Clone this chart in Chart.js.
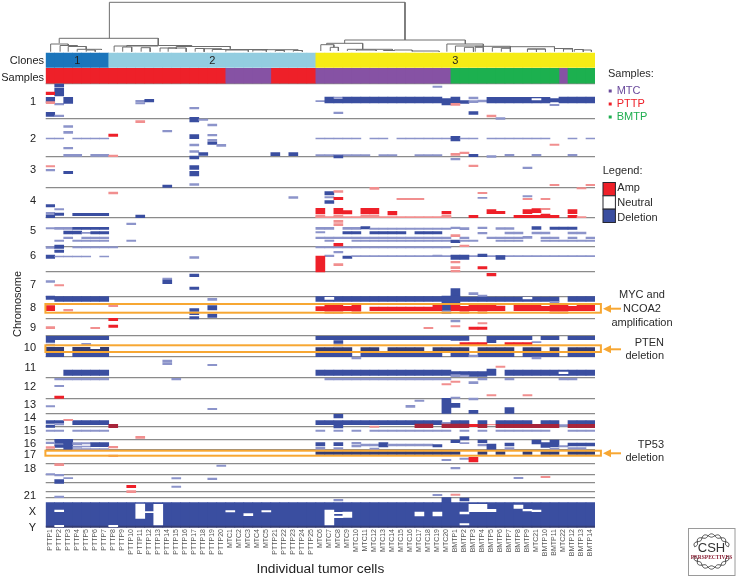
<!DOCTYPE html>
<html>
<head>
<meta charset="utf-8">
<title>Clonal copy number heatmap</title>
<script src="https://cdn.jsdelivr.net/npm/chart.js@4"></script>
<style>
  html, body { margin: 0; padding: 0; background: #fff; }
  canvas { display: block; }
</style>
</head>
<body>
<canvas id="chart" width="736" height="577"></canvas>
<script>
// Tumor cells, one per column
const sampleNames = [
  'PTTP1','PTTP2','PTTP3','PTTP4','PTTP5','PTTP6','PTTP7','PTTP8','PTTP9','PTTP10',
  'PTTP11','PTTP12','PTTP13','PTTP14','PTTP15','PTTP16','PTTP17','PTTP18','PTTP19','PTTP20',
  'MTC1','MTC2','MTC3','MTC4','MTC5','PTTP21','PTTP22','PTTP23','PTTP24','PTTP25',
  'MTC6','MTC7','MTC8','MTC9','MTC10','MTC11','MTC12','MTC13','MTC14','MTC15',
  'MTC16','MTC17','MTC18','MTC19','MTC20','BMTP1','BMTP2','BMTP3','BMTP4','BMTP5',
  'BMTP6','BMTP7','BMTP8','BMTP9','MTC21','BMTP10','BMTP11','MTC22','BMTP12','BMTP13','BMTP14'
];
// first column, last column
const cloneBands = [[0, 6], [7, 29], [30, 60]];
const cloneLabels = ['1', '2', '3'];
const cloneLabelCols = [3.5, 18.5, 45.5];
const sampleBandsPTTP = [[0, 19], [25, 29]];
const sampleBandsMTC = [[20, 24], [30, 44], [57, 57]];
const sampleBandsBMTP = [[45, 56], [58, 60]];

// Genome track runs down the picture; the chromosome ticks and boundaries sit on it
const chromLabels = ['1','2','3','4','5','6','7','8','9','10','11','12','13','14','15','16','17','18','21','X','Y'];
const chromCenters = [102,139,170,201,231,256,285,308,328,348,368,387,405,418,431,443.5,455,469,495.5,512,528];
const chromBoundaries = [84,119,156.3,187.7,217.7,246.3,272,296.7,318.3,336,357,377.3,398.3,413.3,427,439.3,450,463.3,474.7,482.7,492,497.7];

// Calls: first column, last column, track start, track end
const deletions = [
  // chr 1
  [1,1,84,87],[1,1,88,96],[0,0,97.3,102.7],[1,1,103.3,105],[2,2,97.3,103.3],[0,0,112.3,116.3],[1,1,115,116.7],
  [10,10,100.3,102],[10,10,102.7,104],[11,11,99.3,102],[16,16,107.3,109],[16,16,117.3,122],[17,17,119,120.3],
  [30,30,100.7,101.7],[31,31,97,103],[32,32,97,98.5],[32,32,99.3,103],[33,43,97,103],[44,44,98.7,105],[45,45,97,102.7],
  [46,46,100.7,103.3],[47,47,97,99],[47,47,100.7,102.7],[48,48,100,102],[49,55,97.3,103],[56,56,98.7,102],[57,60,97,103],
  [43,43,86,87.3],[32,32,112,113.7],[47,47,111.7,114.3],[56,56,104.3,105.7],[50,50,117.7,119.3],
  // chr 2
  [18,18,124,126],[2,2,125.7,127.3],[2,2,131.3,133.3],[2,2,147.3,149],[13,13,130.3,132],[0,1,138,139],[3,6,138,139],
  [16,16,134.7,138.7],[16,16,144,146],[16,16,150.7,152.3],[18,18,134.3,136],[18,18,139.3,141.3],[18,18,142,144.3],
  [19,19,144.3,146.3],[17,17,152.7,155.3],[2,3,154.3,156.3],[5,6,154.3,156.3],[25,25,152.7,155.7],[27,27,152.7,155.7],
  [30,34,138,139],[36,37,138,139],[39,44,138,139],[45,45,136.3,141],[46,47,138,139],[49,55,138,139],[58,58,138,139],[60,60,138,139],
  [31,35,154.5,156],[37,38,154.5,156],[41,43,154.5,156],[32,32,155.7,158],[45,45,158.3,160],[47,47,154.3,156.7],
  [49,49,155.7,157.3],[51,51,154.3,156],[54,54,154.3,156],[58,58,154.3,156],[30,30,154.5,156],
  // chr 3
  [16,16,156,159],[16,16,165.7,169.3],[16,16,171.3,176],[16,16,183.7,185.3],[0,0,169.3,171],[2,2,171.3,173.7],
  [13,13,185,187.3],[53,53,167,168.7],
  // chr 4
  [27,27,196.5,198.5],[31,31,191.7,195],[31,31,196.7,198],[31,31,200.7,203.3],[0,0,204.7,207],[1,1,208.7,210],
  [0,0,212.3,214.3],[0,0,215,217.7],[1,1,213,215.3],[3,6,213.3,215.7],[10,10,215,217.7],[48,48,197.3,198.3],[53,53,195.7,197],
  // chr 5
  [0,0,227.7,229],[1,2,227.3,229.3],[3,6,227.3,229.5],[2,3,231,234],[4,4,232.3,233.3],[5,6,231.7,234],[2,2,237,238.7],[4,6,237,238.7],
  [1,1,240,241.3],[3,6,240,241.3],[9,9,223,224.7],[9,9,240,241.3],[30,31,227.3,229.3],[33,34,227.3,229.3],[35,35,226.5,229],[36,44,228,229.3],
  [30,30,231.7,233],[33,34,231.7,234],[36,39,231.7,234],[41,43,231.7,234],[30,44,237,238.7],[31,31,240,241.3],[34,44,240,241.3],
  [45,45,227,228.7],[46,46,227.7,229.7],[48,48,227,228.7],[48,48,232.3,234],[45,45,240,242.7],[46,46,237,238.7],[46,47,240,241.3],
  [50,51,227.7,229.3],[51,52,232,234],[54,54,226.7,229.3],[54,55,232,234],[56,58,227,229.3],[58,59,232,234],
  [49,52,237,238.7],[53,53,236.3,238.3],[55,56,237,238.7],[58,58,237,238.7],[60,60,237,238.7],[50,52,240,241.3],[55,60,240,241.3],
  // chr 6
  [0,0,246.7,248.3],[1,1,245,248.3],[1,1,250,252.3],[3,7,246.7,248],[30,44,246.7,248],[0,0,255,258.3],[1,4,256,257],[6,6,256,257],
  [16,16,256.7,258.3],[31,31,255,256.7],[32,32,251.3,253],[33,33,256,258.3],[34,60,255.7,256.7],[43,43,255,256.7],
  [45,46,255,259.3],[48,48,254,256.7],[50,50,255.7,259.3],
  // chr 7
  [16,16,274,276.7],[16,16,287,289.3],[13,13,278,279.7],[13,13,280,283.7],[0,0,280.7,282.3],[45,45,288.7,296.7],
  [47,47,292.7,294.7],[48,48,295,296.7],
  // chr 8
  [0,0,296,299.3],[1,6,296.7,301.3],[18,18,298.3,300.3],[16,16,308.7,311.3],[16,16,312.3,314.7],[16,16,316.7,319],[18,18,305.7,310],[18,18,314,317.3],
  [30,43,296.5,301.3],[44,45,296,304.7],[46,56,297,301.3],[56,56,301.3,303],[58,60,296.5,301.3],[44,44,305.3,310.3],[44,44,311.7,313.7],
  // chr 9
  [45,45,320,322],
  // chr 10
  [0,0,336.3,342.3],[1,6,336.3,339.7],[4,4,343.3,345.3],[0,0,344,346],[0,1,352.7,356.7],[3,6,352.7,356.7],
  [30,44,336.3,339.7],[45,46,336.3,340.3],[49,53,336.3,339.7],[55,56,336.3,339.7],[58,60,336.3,339.7],[32,32,340.7,343.3],[32,32,344.3,346],
  [49,49,340.3,342.7],[54,54,341.7,342.7],[30,33,352.7,356.7],[35,43,352.7,356.7],[45,46,352.7,356.7],[48,51,352.7,356.7],
  [53,56,352.7,356.7],[58,60,352.7,356.7],[47,47,355,356.7],[34,34,357,359],[54,54,357,359],
  // chr 11
  [13,13,360,362],[13,13,362.7,364.7],[18,18,364.3,365.7],[2,6,370,375.3],[30,44,370,375.3],[45,46,371.7,375.7],[47,48,371.7,376.5],
  [49,49,369,375.3],[51,60,370,375.3],[1,6,378.3,380],[14,14,378.3,380],[31,44,378.3,380],[48,48,378.3,380],[51,51,378.3,380],[57,58,378.3,380],
  [45,45,374.7,376.7],[46,46,375,376.5],
  // chr 12
  [1,1,385.3,386.7],[47,47,381.7,383.7],
  // chr 13
  [0,0,405.7,407],[18,18,408.3,409.7],[44,44,398.3,413.3],[45,45,397,398.3],[45,45,403.3,407.3],[47,47,398,400],[47,47,410.3,413.3],
  [41,41,400,401.3],[40,40,405.3,407.3],[51,51,407.7,413.3],
  // chr 14
  [32,32,414.3,418],[0,1,420.7,423.3],[3,6,420.7,424.7],[30,43,420.7,424.7],[32,32,424.7,428],[44,44,422.3,424],[45,46,420.7,424],
  [48,48,420.7,424],[50,53,420.7,424],[55,56,420.7,424],[58,60,420.7,424],[0,0,425,427.3],[1,1,423.3,425],[57,57,424.7,426.3],
  // chr 15
  [0,1,430,431.3],[3,6,430,431.3],[30,30,430,431.3],[32,32,430,431.3],[34,34,430,431.3],[36,44,430,431.3],[46,46,430,431.3],[48,48,430,431.3],
  [50,55,430,431.3],[58,60,430,431.3],
  // chr 16
  [1,2,439.3,443.3],[2,2,443.3,450],[0,0,442,443.7],[1,1,444.7,447.3],[3,3,442.7,444.7],[3,3,446,447.3],[4,4,442.7,444],[4,4,446,447],[5,6,442.7,446.7],
  [3,6,448.7,450],[30,30,442.7,446],[30,30,447.3,449.3],[32,32,442.7,445.7],[32,32,447.7,449.3],[34,34,442.3,444],[34,34,445,447],[35,36,444,446],
  [37,37,442.7,447],[38,42,444,446],[43,43,444.7,447],[36,36,448,449.7],[45,45,440,442.7],[46,46,436.7,440],[46,46,442.7,443.7],
  [48,48,440,442.7],[48,48,444,446],[49,49,444,450],[51,51,443,446],[51,51,447.7,449.3],[54,54,440,444],[55,55,442.7,447.3],[56,56,440,447],
  [56,56,448.3,449.3],[57,57,445.7,447],[58,60,443,446],[58,59,447.7,449.3],
  // chr 17
  [44,44,459.3,460.7],[46,46,458,459.3],
  // chr 18 and below
  [19,19,465,466.3],[45,45,467.3,469],[0,0,473.7,475],[1,1,474.3,476],[52,52,477.3,478.7],[1,1,479.7,483.3],[2,2,477.7,478.7],[14,14,477.7,479],
  [18,18,478,479.7],[14,14,486,487.3],[43,43,494.3,495.7],[1,1,496,497.7],[32,32,499.3,501],[44,44,497.7,502.7],[46,46,498,501],
  // X and Y
  [0,60,502.7,526.5]
];
// The darker runs: PTEN and TP53 rows, and the Y edge
const deepDeletions = [
  [0,1,347.3,351.7],[3,6,347.3,351.7],[30,33,347.7,351.3],[35,36,347.7,351.3],[38,41,347.7,351.3],[43,46,347.7,351.3],[48,51,347.7,351.3],
  [53,54,347.7,351.3],[56,56,347.7,351.3],[58,60,347.7,351.3],
  [30,45,451.7,454.3],[48,48,451.7,454.3],[50,50,451.7,454.3],[53,53,451.7,454.3],[55,56,451.7,454.3],[58,60,451.7,454.3],
  [0,60,526,527.5]
];
const amplifications = [
  [0,0,92,94.7],[0,0,101.7,103.7],[45,45,103.3,105.3],[49,49,115,117],
  [10,10,120.7,122.7],[7,7,134,136.3],[7,7,155,156.7],[45,45,153.3,155.3],[46,46,152,153.7],[56,56,144,145.3],
  [0,0,165.7,167],[47,47,165,166.7],[36,36,187.3,189.3],[56,56,184.3,185.7],[60,60,184.3,185.7],[59,59,187.7,189],
  // chr 4
  [7,7,192,194],[32,32,190.7,192.3],[32,32,197.3,199.7],[30,30,208.3,214],[30,44,216.5,217.7],[30,30,215.3,217.3],[32,32,208.3,210.7],[32,32,211.3,214],
  [32,32,215.3,217.3],[33,33,210.7,214],[35,36,208.3,214],[35,36,215.3,217.3],[38,38,211.3,215],[44,44,211.3,214],[44,44,215.3,217.3],
  [39,41,198.3,199.7],[48,48,192.3,193.7],[47,47,215.3,217.7],[49,49,209.7,213.7],[50,50,211.3,213.7],[52,52,215.3,217.7],[53,53,209.7,213.7],
  [53,53,215.3,217.7],[54,54,208.7,212.7],[54,54,215.3,217.7],[55,55,208.3,209.7],[55,55,214,217.7],[56,56,215.3,217.7],[58,58,209.7,213.7],
  [58,58,215.3,217.7],[59,59,216.7,217.7],[53,53,198.3,199.7],[55,55,198.3,199.7],
  // chr 5, 6
  [32,32,220.3,222.3],[32,32,223.7,225.7],[45,45,234.7,236.7],[46,46,245,246.7],[32,32,243.3,246],[30,30,256,272],[32,32,263.7,265.7],
  [45,45,261.3,263],[45,45,266.7,268.7],[45,45,270.3,272],[48,48,266.7,269],[49,49,273.3,276],[1,1,284.7,286],
  // chr 8
  [0,0,305.7,310.7],[2,2,309.3,311],[7,7,305,306.7],[30,30,306.7,310.7],[31,32,305,310.7],[33,33,306.3,310.7],[34,34,305,310.7],[36,42,307,310.7],
  [43,43,305,310.7],[45,45,304.7,310.7],[46,46,306.3,310.7],[47,49,305,310.7],[50,50,306,310.7],[52,54,305,310.7],[55,55,306.3,310.7],[56,57,305,310.7],
  [58,58,306.3,310.7],[59,60,305,310.7],[31,32,311.3,313.3],[34,34,311.3,313.3],[46,46,311.3,313.3],[48,48,311.3,313.3],[56,57,311.3,313.3],
  // chr 9, 10
  [7,7,318.3,320.7],[7,7,325,327.3],[0,0,326.7,328.7],[5,5,327.3,328.7],[45,45,325.7,327],[48,48,322.7,324],[47,48,327,329.3],[42,42,327.3,328.7],
  [46,48,342.7,345.3],[51,53,342.7,345.3],
  // chr 11 to 15
  [50,50,366,367.3],[1,1,396,398.3],[44,44,383.7,385],[45,45,381,382.3],[49,49,394.7,396],[53,53,394.7,396],[2,2,419.3,420.7],
  [36,36,426,427.3],[47,47,424.3,426.7],[49,49,424.3,425],[10,10,436.3,438.3],
  // chr 16 and below
  [0,0,446.7,448.3],[7,7,446.3,448],[7,7,455,456.7],[47,47,457.3,462],[1,1,463.7,465.7],[55,55,476.3,477.7],[9,9,485.3,487.7],[9,9,490.7,492.7],[45,45,494,495.3]
];
// Where amplification and deletion overlap in chr 14
const mixedCalls = [
  [7,7,424.3,427.7],[41,42,424,427.7],[44,46,424,427.7],[48,48,424.3,427.7],[50,56,424.3,427.7],[58,60,424.3,427.7]
];
// Neutral stretches inside broad deletions
const neutrals = [
  [54,54,98.7,100],[31,31,297.3,299.3],[53,53,297.3,299],[5,5,347.3,348.7],
  [1,1,510,511.7],[1,1,525.3,526.7],[7,7,525.3,526.7],[10,10,504,518.3],[11,11,511.7,512.7],[12,12,504.3,525],[20,20,510.7,512],
  [22,22,513.7,515.7],[24,24,510.7,512],[31,31,510,525],[32,32,512.3,513.7],[32,32,516,517.7],[33,33,512,517.3],[41,41,512,516],[43,43,512,516],
  [46,46,512,514],[46,46,523.7,525],[47,48,504.3,511.7],[49,49,509.3,511.7],[52,52,505,508.3],[53,53,509.3,511],[54,54,510,511.7],[57,57,372,373.7]
];
// Dendrogram merges: left x, right x, join height, left foot, right foot (x in columns)
const dendrogram = [
  [7.07,39.9,2.3,38.3,40],[1.5,12.5,38.3,43.3,46],
  [0.55,2.5,44,51.7,45.5],[1.6,3.5,45.5,51.7,46.5],[2.5,4.5,46.5,51.7,49.3],[3.5,6.2,49.3,51.7,50],[4.5,5.5,50,51.7,51.7],
  [7.6,12.5,46,51.7,45.5],[8.55,9.55,47,51.7,51.7],[10.6,11.6,47.7,51.7,51.7],[9,16.2,45.5,47,46.5],[12.7,14.5,48,51.7,49],
  [13.6,15.6,48,51.7,51.7],[14.5,20.5,46.5,48,48.7],[16.6,17.6,48.5,51.7,51.7],[17.6,19.5,48.7,51.7,49.5],[18.5,24.6,49.5,51.7,50],
  [20,22.5,50,51.7,51.7],[23,24.5,50,51.7,51.7],[24,28,49.7,50,51],[25.5,26.5,50.5,51.7,51.7],[27.5,28.5,50.5,51.7,51.7],
  [33.2,46.6,40,43.3,44],[31.2,35.2,43.3,44.7,49.3],[30.55,32,44.7,51,47.3],[31.6,32.5,47.3,51,51],[33.5,38.5,49.3,51,50],
  [34.5,36.7,50,51,51],[37.5,38.7,50.5,51,51],[38.7,40.7,50,51,51],[40.7,43.7,51,51.7,51.7],
  [44.55,48.6,44,51.7,46],[45.5,48.6,46,51.7,47],[46.5,47.5,47.3,51.7,51.7],[47.7,48.6,47.3,51.7,51.7],[47.7,51.6,46.3,47.3,47.3],
  [49.6,51.6,47.3,51.7,48.3],[50.6,51.6,48.3,51.7,51.7],[51.6,56.5,46.7,48.3,49],[53.5,55.5,49,51.7,49],[53.5,54.5,49,51.7,51.7],[54.5,55.5,49,51.7,51.7],
  [56.5,58.5,48.5,51.7,49],[57.5,58.5,49,51.7,51.7],[58.7,59.7,49.5,51.7,51.7],[59.7,60.6,50,51.7,51.7]
];
// Rows picked out in orange, with their call-outs
const highlightRows = [[304,312.7],[345.3,352],[450.7,455.7]];
const calloutRows = [308.7,349.3,453.3];

const DEL = '#3a4ea0', DEL_FAINT = '#8c94ca', DEL_DEEP = '#343c72';
const AMP = '#ee2029', AMP_FAINT = '#f18f8f';
const MIXED = '#a8243a';
const ORANGE = '#f7a733';
const FONT = '"Liberation Sans", Arial, sans-serif';

// Expand column runs into one floating bar per cell
function cells(runs) {
  const out = [];
  runs.forEach(r => {
    for (let c = r[0]; c <= r[1]; c++) out.push({ x: sampleNames[c], y: [r[2], r[3]] });
  });
  return out;
}
function bandCells(bands, top, bottom) {
  return cells(bands.map(b => [b[0], b[1], top, bottom]));
}
function dendrogramPoints() {
  const pts = [];
  dendrogram.forEach(m => {
    pts.push({ x: m[0], y: m[3] }, { x: m[0], y: m[2] }, { x: m[1], y: m[2] }, { x: m[1], y: m[4] }, { x: NaN, y: NaN });
  });
  return pts;
}
function cellDataset(data, solid, faint) {
  return {
    type: 'bar', data: data, grouped: false, barPercentage: 1, categoryPercentage: 1, borderWidth: 0,
    backgroundColor: ctx => {
      if (!faint || !ctx.raw) return solid;
      return Math.abs(ctx.raw.y[1] - ctx.raw.y[0]) <= 2.01 ? faint : solid;
    }
  };
}

// Labels, legend boxes, highlight rows and the journal mark
const annotations = {
  id: 'annotations',
  afterDatasetsDraw(chart) {
    const c = chart.ctx, y = chart.scales.y, x2 = chart.scales.x2;
    const text = (s, px, py, color, align, font) => {
      c.fillStyle = color || '#2b2b2b';
      c.textAlign = align || 'left';
      c.textBaseline = 'middle';
      c.font = font || '11px ' + FONT;
      c.fillText(s, px, py);
    };
    c.save();

    // highlighted rows
    c.strokeStyle = ORANGE;
    c.lineWidth = 2;
    highlightRows.forEach(r => {
      c.strokeRect(x2.getPixelForValue(0) - 0.3, y.getPixelForValue(r[0]), 555.5, y.getPixelForValue(r[1]) - y.getPixelForValue(r[0]));
    });

    // call-out arrows
    calloutRows.forEach(r => {
      const py = y.getPixelForValue(r);
      c.strokeStyle = ORANGE;
      c.fillStyle = ORANGE;
      c.lineWidth = 2;
      c.beginPath(); c.moveTo(608, py); c.lineTo(621, py); c.stroke();
      c.beginPath(); c.moveTo(603, py); c.lineTo(611, py - 4); c.lineTo(611, py + 4); c.closePath(); c.fill();
    });

    // clone numbers
    cloneLabels.forEach((s, i) => {
      text(s, x2.getPixelForValue(cloneLabelCols[i]), 60.5, '#222', 'center');
    });

    text('Clones', 44, 60.5, '#222', 'right');
    text('Samples', 44, 77.5, '#222', 'right');
    c.save();
    c.translate(17.5, 304);
    c.rotate(-Math.PI / 2);
    text('Chromosome', 0, 0, '#222', 'center');
    c.restore();

    // samples key
    text('Samples:', 608, 74);
    [['MTC', '#6a4a9c', 91], ['PTTP', '#ee2029', 104], ['BMTP', '#1fae50', 117]].forEach(k => {
      c.fillStyle = k[1];
      c.fillRect(608.7, k[2] - 1.5, 3, 3);
      text(k[0], 616.7, k[2], k[1]);
    });

    // copy number key
    text('Legend:', 602.7, 171);
    [['Amp', AMP, 182.5, 187.5], ['Neutral', '#fff', 195.8, 202.7], ['Deletion', DEL, 209.2, 218]].forEach(k => {
      c.fillStyle = k[1];
      c.fillRect(603, k[2], 12.4, 13.3);
      c.strokeStyle = '#26262e';
      c.lineWidth = 1;
      c.strokeRect(603, k[2], 12.4, 13.3);
      text(k[0], 617.3, k[3]);
    });

    // call-out text
    text('MYC and', 642, 295, '#2b2b2b', 'center');
    text('NCOA2', 642, 309, '#2b2b2b', 'center');
    text('amplification', 642, 322.5, '#2b2b2b', 'center');
    text('PTEN', 664, 342.5, '#2b2b2b', 'right');
    text('deletion', 664, 356, '#2b2b2b', 'right');
    text('TP53', 664, 444.7, '#2b2b2b', 'right');
    text('deletion', 664, 458.3, '#2b2b2b', 'right');

    // CSH mark
    c.fillStyle = '#fff';
    c.fillRect(688.5, 528.5, 46.5, 47);
    c.strokeStyle = '#9a9a9a';
    c.lineWidth = 1;
    c.strokeRect(688.5, 528.5, 46.5, 47);
    c.strokeStyle = '#2a2a2a';
    c.lineWidth = 0.8;
    [1, -1].forEach(flip => {
      for (let k = 0; k < 2; k++) {
        c.beginPath();
        for (let t = 0; t <= 1.001; t += 0.02) {
          const ang = Math.PI * (1.06 + 0.88 * t);
          const rx = 17, ry = 14;
          const wob = 1.7 * Math.sin(t * Math.PI * 7) * (k ? 1 : -1);
          const px = 711.5 + (rx + wob) * Math.cos(ang);
          const py = 551.5 + flip * ((ry + wob) * Math.sin(ang)) + flip * -2;
          t === 0 ? c.moveTo(px, py) : c.lineTo(px, py);
        }
        c.stroke();
      }
    });
    text('CSH', 711.5, 548, '#333', 'center', '13px ' + FONT);
    text('PERSPECTIVES', 711.5, 557.5, '#8a2035', 'center', 'bold 5.5px "Liberation Serif", serif');
    c.restore();
  }
};

new Chart(document.getElementById('chart').getContext('2d'), {
  data: {
    labels: sampleNames,
    // first dataset ends up on top
    datasets: [
      cellDataset(cells(neutrals), '#ffffff'),
      cellDataset(cells(mixedCalls), MIXED),
      cellDataset(cells(amplifications), AMP, AMP_FAINT),
      cellDataset(cells(deepDeletions), DEL_DEEP),
      cellDataset(cells(deletions), DEL, DEL_FAINT),
      cellDataset(bandCells(sampleBandsBMTP, 68.3, 83.2), '#1cb04f'),
      cellDataset(bandCells(sampleBandsMTC, 68.3, 83.2), '#8652a4'),
      cellDataset(bandCells(sampleBandsPTTP, 68.3, 83.2), '#ee2029'),
      cellDataset(bandCells(cloneBands.slice(2), 53, 67.3), '#f6ec15'),
      cellDataset(bandCells(cloneBands.slice(1, 2), 53, 67.3), '#93cde0'),
      cellDataset(bandCells(cloneBands.slice(0, 1), 53, 67.3), '#1b75bb'),
      { type: 'line', xAxisID: 'x2', data: dendrogramPoints(), borderColor: '#6e6e6e', borderWidth: 1, pointRadius: 0, spanGaps: false, tension: 0 }
    ]
  },
  options: {
    responsive: false,
    animation: false,
    events: [],
    layout: { padding: { left: 0, right: 141, top: 0, bottom: 0 } },
    plugins: { legend: { display: false }, tooltip: { enabled: false } },
    scales: {
      x: {
        type: 'category',
        grid: { display: false, drawTicks: false },
        border: { display: false },
        ticks: { autoSkip: false, minRotation: 90, maxRotation: 90, padding: 1, color: '#555', font: { size: 7, family: FONT } },
        title: { display: true, text: 'Individual tumor cells', color: '#222', padding: 0, font: { size: 13.7, family: FONT } },
        afterFit(s) { s.height = 49; s.paddingLeft = 0; s.paddingRight = 0; }
      },
      x2: { type: 'linear', display: false, min: 0, max: 61 },
      y: {
        type: 'linear',
        position: 'left',
        min: 0,
        max: 528,
        reverse: true,
        grid: { display: false, drawTicks: false },
        border: { display: false },
        afterBuildTicks(s) { s.ticks = chromCenters.map(v => ({ value: v })); },
        ticks: {
          autoSkip: false,
          padding: 9.7,
          color: '#222',
          font: { size: 11, family: FONT },
          callback: v => chromLabels[chromCenters.indexOf(v)]
        },
        afterFit(s) { s.width = 45.7; s.paddingTop = 0; s.paddingBottom = 0; }
      },
      yLines: {
        type: 'linear',
        position: 'right',
        min: 0,
        max: 528,
        reverse: true,
        border: { display: false },
        afterBuildTicks(s) { s.ticks = chromBoundaries.map(v => ({ value: v })); },
        grid: { color: '#8b8b8b', lineWidth: 1.3, drawTicks: false },
        ticks: { display: false },
        afterFit(s) { s.width = 0; }
      }
    }
  },
  plugins: [annotations]
});
</script>
</body>
</html>
